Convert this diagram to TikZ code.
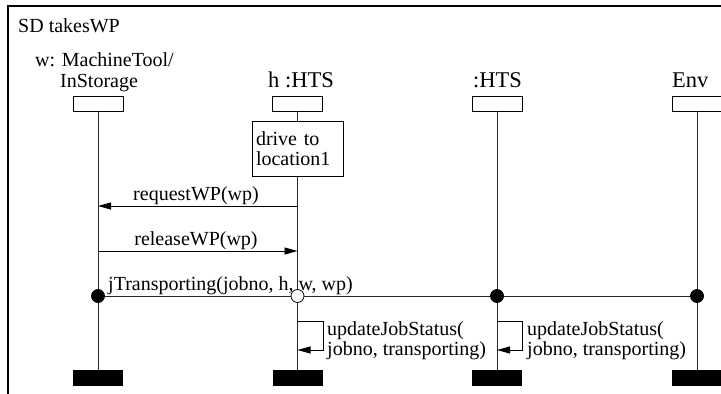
\documentclass[tikz,border=0pt]{standalone}
\usepackage{fontspec}
\setmainfont{Liberation Serif}
\usetikzlibrary{arrows.meta}
\begin{document}
\begin{tikzpicture}[x=1pt,y=-1pt,
  head/.style={draw,line width=0.9pt,minimum width=50pt,minimum height=15pt,inner sep=0pt,fill=white},
  stopbar/.style={fill=black,minimum width=50pt,minimum height=16pt,inner sep=0pt},
  lbl/.style={font=\fontsize{20}{20}\selectfont,inner sep=0pt,anchor=base west},
  objname/.style={font=\fontsize{22.5}{24}\selectfont,inner sep=0pt,anchor=base west},
  life/.style={line width=0.9pt,black!85},
  msg/.style={line width=0.9pt,-{Triangle[length=13pt,width=7pt]}},
  sync/.style={circle,draw,line width=0.8pt,fill=black,minimum size=13pt,inner sep=0pt},
  async/.style={sync,fill=white},
  actbox/.style={draw,line width=0.9pt,fill=white,align=left,text width=83pt,inner sep=4pt,
    minimum height=55pt,font=\fontsize{20}{20}\selectfont}]
\useasboundingbox (0,0) rectangle (721,394);

% diagram frame
\draw[line width=1.2pt] (8,394) -- (8,6) -- (721,6);
\node[lbl] (title) at (18,32) {SD takesWP};

% object names
\node[lbl] (wname1) at (35,66) {w: MachineTool/};
\node[lbl] (wname2) at (60,87) {InStorage};
\node[objname] (hname) at (268,87) {h :HTS};
\node[objname] (htsname) at (473,87) {:HTS};
\node[objname] (envname) at (672,87) {Env};

% lifeline heads and ends
\node[head] (w) at (98,103.5) {};
\node[head] (h) at (297.5,103.5) {};
\node[head] (hts) at (497,103.5) {};
\node[head] (env) at (697,103.5) {};
\node[stopbar] (wend) at (98,378) {};
\node[stopbar] (hend) at (297.5,378) {};
\node[stopbar] (htsend) at (497,378) {};
\node[stopbar] (envend) at (697,378) {};

% lifelines
\draw[life] (w.south) -- (wend.north);
\draw[life] (h.south) -- (hend.north);
\draw[life] (hts.south) -- (htsend.north);
\draw[life] (env.south) -- (envend.north);

% action on h
\node[actbox] (drive) at (297.5,148.5) {drive to\\location1};

% messages between w and h
\coordinate (rqh) at (297.5,206);
\coordinate (rqw) at (98,206);
\draw[msg] (rqh) -- (rqw);
\node[lbl,anchor=base] (rqlbl) at (196,200) {requestWP(wp)};

\coordinate (rlw) at (98,251);
\coordinate (rlh) at (297.5,251);
\draw[msg] (rlw) -- (rlh);
\node[lbl,anchor=base] (rllbl) at (196,245.5) {releaseWP(wp)};

% broadcast jTransporting
\node[sync] (jw) at (98,296) {};
\node[async] (jh) at (297.5,296) {};
\node[sync] (jhts) at (497,296) {};
\node[sync] (jenv) at (697,296) {};
\draw[life] (jw) -- (jh) -- (jhts) -- (jenv);
\node[lbl] (jlbl) at (108,290.5) {jTransporting(jobno, h, w, wp)};

% self calls updateJobStatus
\coordinate (uh1) at (297.5,321);
\coordinate (uh2) at (297.5,350);
\draw[msg] (uh1) -- ++(25.5,0) -- ++(0,29) -- (uh2);
\node[lbl] (uhlbl1) at (327,335) {updateJobStatus(};
\node[lbl] (uhlbl2) at (327,355) {jobno, transporting)};

\coordinate (ut1) at (497,321);
\coordinate (ut2) at (497,350);
\draw[msg] (ut1) -- ++(25.5,0) -- ++(0,29) -- (ut2);
\node[lbl] (utlbl1) at (527,335) {updateJobStatus(};
\node[lbl] (utlbl2) at (527,355) {jobno, transporting)};
\end{tikzpicture}
\end{document}
